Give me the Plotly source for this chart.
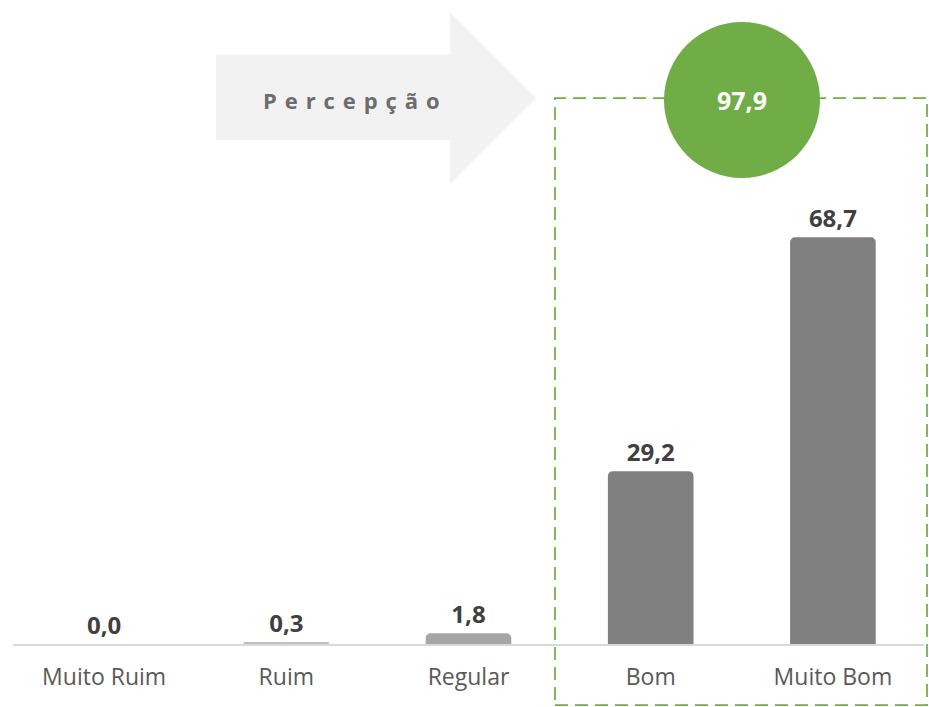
import plotly.graph_objects as go

categories = ["Muito Ruim", "Ruim", "Regular", "Bom", "Muito Bom"]
values = [0.0, 0.3, 1.8, 29.2, 68.7]
bar_colors = ["#BFBFBF", "#BFBFBF", "#A6A6A6", "#808080", "#808080"]
arrow_label = "Percepção"
positive_total = values[3] + values[4]

W, H = 929, 707
def px(x):
    return x / W
def py(y):
    return 1 - y / H

FONT = "Open Sans"

fig = go.Figure()
fig.add_trace(go.Bar(
    x=categories, y=values,
    marker=dict(color=bar_colors, cornerradius=5, line=dict(width=0)),
    text=values, texttemplate="<b>%{y:.1f}</b>", textposition="outside",
    textfont=dict(family=FONT, size=24, color="#404040"),
    cliponaxis=False, hoverinfo="skip",
))

arrow_pts = [(216, 55), (450, 55), (450, 12), (536, 98), (450, 184), (450, 140), (216, 140)]
path = "M " + " L ".join(f"{px(a):.5f},{py(b):.5f}" for a, b in arrow_pts) + " Z"

shapes = [
    dict(type="path", xref="paper", yref="paper", path=path,
         fillcolor="#F2F2F2", line=dict(width=0), layer="below"),
    dict(type="rect", xref="paper", yref="paper",
         x0=px(555), x1=px(927), y0=py(705), y1=py(98),
         line=dict(color="#70AD47", width=1.75, dash="13px,7px"), fillcolor="rgba(0,0,0,0)"),
    dict(type="circle", xref="paper", yref="paper",
         x0=px(664), x1=px(820), y0=py(178), y1=py(22),
         fillcolor="#70AD47", line=dict(width=0)),
]

spaced_label = " \u200a".join(arrow_label)

annotations = [
    dict(x=px(351), y=py(100), xref="paper", yref="paper", text=f"<b>{spaced_label}</b>",
         xanchor="center", yanchor="middle",
         showarrow=False, font=dict(family=FONT, size=22, color="#6D6D6D")),
    dict(x=px(742), y=py(100), xref="paper", yref="paper",
         text="<b>" + f"{positive_total:.1f}".replace(".", ",") + "</b>",
         xanchor="center", yanchor="middle",
         showarrow=False, font=dict(family=FONT, size=25, color="#FFFFFF")),
]

fig.update_layout(
    width=W, height=H,
    margin=dict(l=0, r=0, t=0, b=0),
    paper_bgcolor="white", plot_bgcolor="white",
    separators=",.",
    showlegend=False,
    bargap=0.53,
    shapes=shapes, annotations=annotations,
    xaxis=dict(domain=[13 / W, 924 / W], showgrid=False, showline=True,
               linecolor="#D9D9D9", linewidth=1.5, ticks="outside", ticklen=12,
               tickcolor="rgba(0,0,0,0)",
               tickfont=dict(family=FONT, size=23, color="#595959"), fixedrange=True),
    yaxis=dict(domain=[(H - 644) / H, 1], range=[0, 644 / 5.92], visible=False,
               fixedrange=True),
)

fig.write_html("out.html")
